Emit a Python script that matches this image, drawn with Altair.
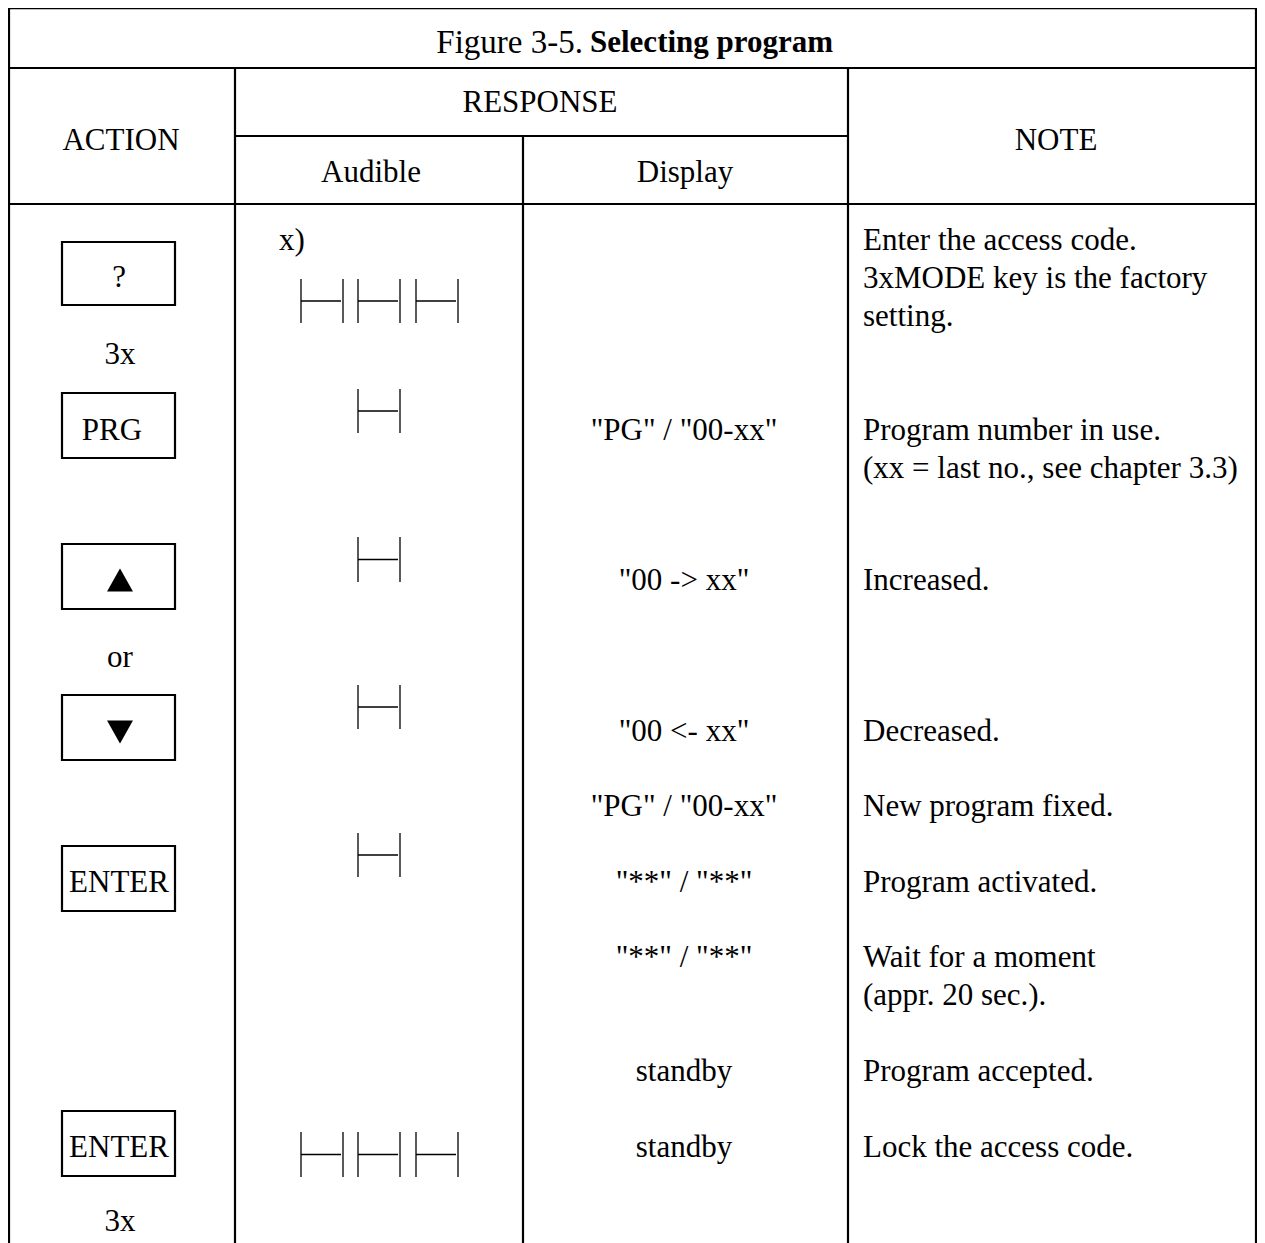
import altair as alt
import pandas as pd

# ---------------- table content ----------------
title_plain = "Figure 3-5."
title_bold = "Selecting program"

header_labels = ["ACTION", "RESPONSE", "Audible", "Display", "NOTE"]
header_x = [121, 540, 371, 685, 1056]
header_y = [141, 103, 173, 173, 141]

action_labels = ["?", "3x", "PRG", "or", "ENTER", "ENTER", "3x"]
action_x = [119, 120, 112, 120, 119, 119, 120]
action_y = [278, 355, 431, 658, 883, 1148, 1222]

key_box_top = [242, 393, 544, 695, 846, 1111]
key_box_bottom = [305, 458, 609, 760, 911, 1176]
key_box_left = 62
key_box_right = 175

arrow_shapes = ["M0,-0.88L1,0.88L-1,0.88Z", "M0,0.88L1,-0.88L-1,-0.88Z"]
arrow_y = [580, 732]

audible_note = "x)"
single_beep_top = [389, 537, 685, 833]
single_beep_bottom = [433, 582, 729, 877]
triple_beep_top = [279, 1132]
triple_beep_bottom = [323, 1177]
beep_left_single = [358]
beep_left_triple = [301, 358, 416]
beep_width = 42

display_labels = ['"PG" / "00-xx"', '"00 -> xx"', '"00 <- xx"', '"PG" / "00-xx"',
                  '"**" / "**"', '"**" / "**"', "standby", "standby"]
display_y = [431, 581, 732, 807, 883, 958, 1072, 1148]

note_labels = ["Enter the access code.", "3xMODE key is the factory", "setting.",
               "Program number in use.", "(xx = last no., see chapter 3.3)",
               "Increased.", "Decreased.", "New program fixed.", "Program activated.",
               "Wait for a moment", "(appr. 20 sec.).", "Program accepted.",
               "Lock the access code."]
note_y = [241, 279, 317, 431, 469, 581, 732, 807, 883, 958, 996, 1072, 1148]

# ---------------- table grid ----------------
col_edges = [9, 235, 523, 848, 1256]
top_y, title_line_y, sub_line_y, head_line_y, bottom_y = 7, 68, 136, 204, 1260

W, H = 1249, 1240
X = alt.Scale(domain=[8, 8 + W], range=[0, W], nice=False, zero=False)
Y = alt.Scale(domain=[8, 8 + H], range=[0, H], nice=False, zero=False)
FONT = "Liberation Serif"
FS = 31


def xy():
    return dict(x=alt.X("x:Q", scale=X, axis=None), y=alt.Y("y:Q", scale=Y, axis=None))


# grid rules
grid = []
L, C1, C2, C3, R = col_edges
for yv in [top_y + 1.2, title_line_y, head_line_y]:
    grid.append(dict(x=L - 1, x2=R + 1, y=yv, y2=yv))
grid.append(dict(x=C1, x2=C3, y=sub_line_y, y2=sub_line_y))
grid.append(dict(x=L, x2=L, y=top_y, y2=bottom_y))
grid.append(dict(x=R, x2=R, y=top_y, y2=bottom_y))
grid.append(dict(x=C1, x2=C1, y=title_line_y, y2=bottom_y))
grid.append(dict(x=C2, x2=C2, y=sub_line_y, y2=bottom_y))
grid.append(dict(x=C3, x2=C3, y=title_line_y, y2=bottom_y))
grid_df = pd.DataFrame(grid)

enc4 = dict(x=alt.X("x:Q", scale=X, axis=None), x2="x2:Q",
            y=alt.Y("y:Q", scale=Y, axis=None), y2="y2:Q")

grid_layer = alt.Chart(grid_df).mark_rule(color="black", strokeWidth=2.2).encode(**enc4)

# key boxes
box_df = pd.DataFrame(dict(x=[key_box_left] * len(key_box_top), x2=[key_box_right] * len(key_box_top),
                           y=key_box_top, y2=key_box_bottom))
box_layer = alt.Chart(box_df).mark_rect(fill="white", stroke="black", strokeWidth=2.2).encode(**enc4)

# beep symbols
beeps = []
for t, b in zip(single_beep_top, single_beep_bottom):
    for x0 in beep_left_single:
        beeps.append((x0, t, b))
for t, b in zip(triple_beep_top, triple_beep_bottom):
    for x0 in beep_left_triple:
        beeps.append((x0, t, b))
beep_rows = []
for x0, t, b in beeps:
    m = (t + b) / 2
    beep_rows.append(dict(x=x0, x2=x0, y=t, y2=b))
    beep_rows.append(dict(x=x0 + beep_width, x2=x0 + beep_width, y=t, y2=b))
    beep_rows.append(dict(x=x0, x2=x0 + beep_width - 2, y=m, y2=m))
beep_df = pd.DataFrame(beep_rows)
beep_layer = alt.Chart(beep_df).mark_rule(color="black", strokeWidth=1.3).encode(**enc4)

# arrows
arrow_layers = []
for shp, yv in zip(arrow_shapes, arrow_y):
    adf = pd.DataFrame(dict(x=[120], y=[yv]))
    arrow_layers.append(alt.Chart(adf).mark_point(shape=shp, filled=True, fill="black",
                                                  size=26 * 26, opacity=1).encode(**xy()))

# texts
center_rows = []
center_rows += [dict(t=t, x=x, y=y) for t, x, y in zip(header_labels, header_x, header_y)]
center_rows += [dict(t=t, x=x, y=y) for t, x, y in zip(action_labels, action_x, action_y)]
center_rows += [dict(t=t, x=684, y=y) for t, y in zip(display_labels, display_y)]
center_rows.append(dict(t=audible_note, x=292, y=241))
center_df = pd.DataFrame(center_rows)
left_df = pd.DataFrame(dict(t=note_labels, x=[863] * len(note_labels), y=note_y))

text_center = alt.Chart(center_df).mark_text(font=FONT, fontSize=FS, align="center", baseline="middle",
                                             color="black").encode(text="t:N", **xy())
text_left = alt.Chart(left_df).mark_text(font=FONT, fontSize=FS, align="left", baseline="middle",
                                         color="black").encode(text="t:N", **xy())

tdf1 = pd.DataFrame(dict(t=[title_plain], x=[583], y=[43]))
tdf2 = pd.DataFrame(dict(t=[title_bold], x=[590], y=[43]))
title1 = alt.Chart(tdf1).mark_text(font=FONT, fontSize=33, align="right", baseline="middle",
                                   color="black").encode(text="t:N", **xy())
title2 = alt.Chart(tdf2).mark_text(font=FONT, fontSize=31, fontWeight="bold", align="left",
                                   baseline="middle", color="black").encode(text="t:N", **xy())

chart = alt.layer(grid_layer, box_layer, beep_layer, *arrow_layers, text_center, text_left,
                  title1, title2).properties(
    width=W, height=H, padding=0, autosize=alt.AutoSizeParams(type="none"),
    background="white",
).configure_view(stroke=None)

chart.save("out.html", embed_options={"renderer": "svg", "actions": False})
